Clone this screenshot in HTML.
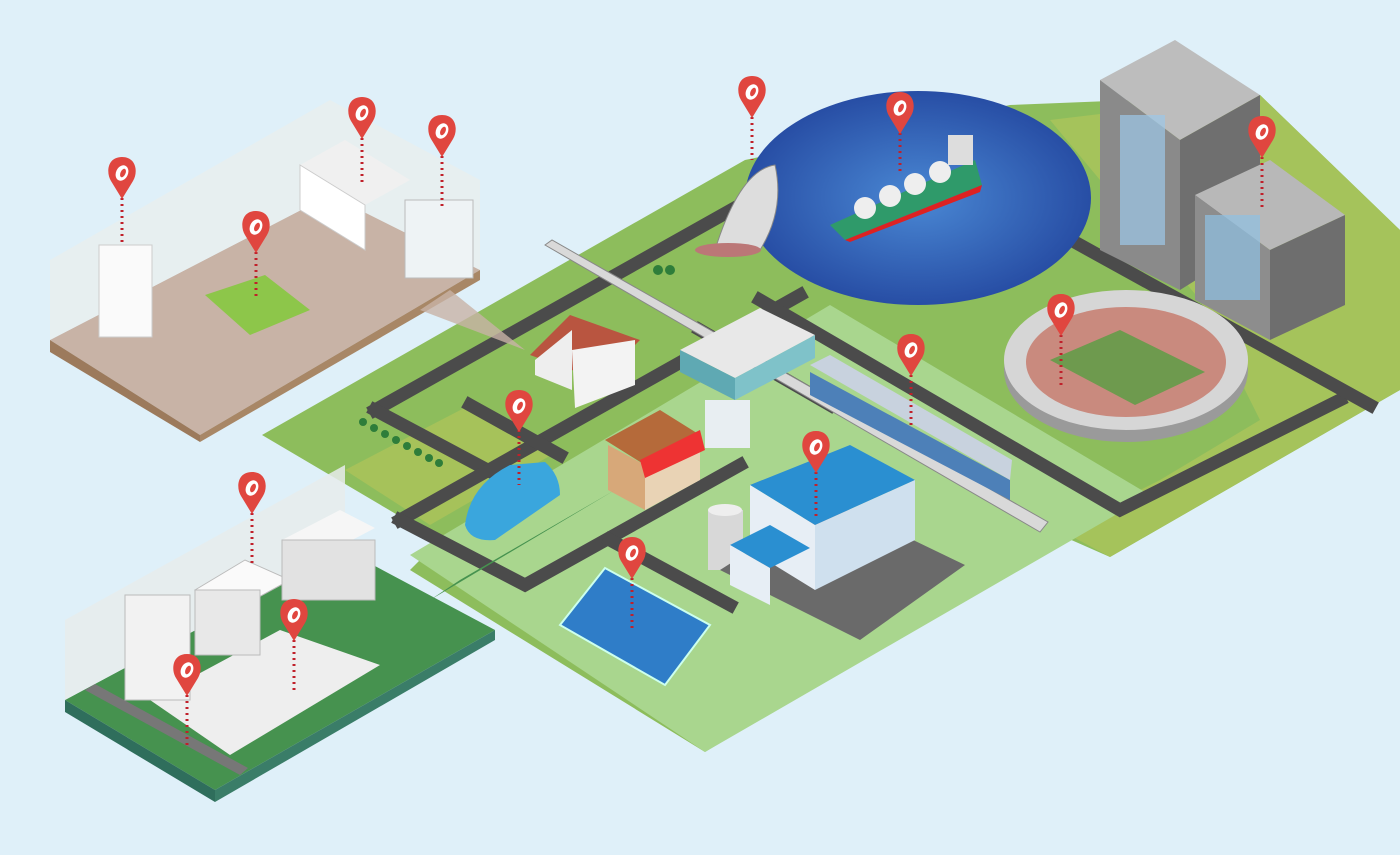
<!DOCTYPE html>
<html><head><meta charset="utf-8"><style>
html,body{margin:0;padding:0;background:#dff0f9;}
svg{display:block}
</style></head><body>
<svg width="1400" height="855" viewBox="0 0 1400 855" xmlns="http://www.w3.org/2000/svg">
<defs>
<radialGradient id="sea" cx="50%" cy="50%" r="55%">
<stop offset="0" stop-color="#4a88d4"/><stop offset="1" stop-color="#2448a0"/></radialGradient>
<g id="pin"><path d="M0,0 C-15,0 -16,16 -11,24 L0,42 L11,24 C16,16 15,0 0,0Z" fill="#e0463f"/><ellipse cx="0" cy="16" rx="6" ry="8" fill="#fff" transform="rotate(25 0 16)"/><ellipse cx="1" cy="16" rx="2.5" ry="4.5" fill="#e0463f" transform="rotate(25 1 16)"/></g>
</defs>
<rect width="1400" height="855" fill="#dff0f9"/>
<!-- main land -->
<polygon points="262,435 745,160 1010,105 1260,95 1400,230 1400,390 1110,557 1060,535 705,752 410,570 440,540" fill="#8dbd5c"/>
<polygon points="1050,120 1260,95 1400,230 1400,390 1110,557 1060,530 1160,480 1260,420 1200,300" fill="#a5c35b"/>
<polygon points="410,555 830,305 1150,495 705,752" fill="#a9d68e"/>
<polygon points="345,470 470,405 560,450 430,525" fill="#a6c25a"/>
<!-- roads -->
<g stroke="#4b4b4b" stroke-width="13" fill="none" stroke-linecap="square">
<polyline points="375,410 740,205"/>
<polyline points="375,410 525,490"/>
<polyline points="400,520 800,295"/>
<polyline points="400,520 525,585 740,465"/>
<polyline points="610,540 730,605"/>
<polyline points="760,300 1120,510 1340,400"/>
<polyline points="1080,245 1370,405"/>
<polyline points="470,405 560,455"/>
<polyline points="700,330 830,405"/>
</g>
<!-- rail -->
<polygon points="545,245 552,240 1048,522 1040,532" fill="#d9d9d9" stroke="#888" stroke-width="1"/>
<!-- sea -->
<ellipse cx="918" cy="198" rx="173" ry="107" fill="url(#sea)"/>
<!-- ship -->
<polygon points="830,225 975,160 982,185 845,240" fill="#2f9a6a"/>
<polygon points="845,240 982,185 980,192 850,242" fill="#d22"/>
<g fill="#eee"><circle cx="865" cy="208" r="11"/><circle cx="890" cy="196" r="11"/><circle cx="915" cy="184" r="11"/><circle cx="940" cy="172" r="11"/></g>
<rect x="948" y="135" width="25" height="30" fill="#ddd"/>
<!-- dish -->
<path d="M715,250 Q740,170 775,165 Q785,210 760,250Z" fill="#ddd" stroke="#888"/>
<ellipse cx="728" cy="250" rx="33" ry="7" fill="#b77"/>
<!-- tall building -->
<polygon points="1100,80 1175,40 1260,95 1180,140" fill="#bdbdbd"/>
<polygon points="1100,80 1180,140 1180,290 1100,250" fill="#8a8a8a"/>
<polygon points="1180,140 1260,95 1260,240 1180,290" fill="#6f6f6f"/>
<rect x="1120" y="115" width="45" height="130" fill="#9cc8e8" opacity=".7"/>
<polygon points="1195,195 1270,160 1345,215 1270,250" fill="#b8b8b8"/>
<polygon points="1195,195 1270,250 1270,340 1195,300" fill="#8d8d8d"/>
<polygon points="1270,250 1345,215 1345,305 1270,340" fill="#6e6e6e"/>
<rect x="1205" y="215" width="55" height="85" fill="#8fc0e2" opacity=".7"/>
<!-- stadium -->
<ellipse cx="1126" cy="370" rx="122" ry="72" fill="#9a9a9a"/>
<ellipse cx="1126" cy="360" rx="122" ry="70" fill="#d6d6d6"/>
<ellipse cx="1126" cy="362" rx="100" ry="55" fill="#c98a7e"/>
<polygon points="1050,360 1120,330 1205,372 1135,405" fill="#6e9a4e"/>
<!-- station -->
<polygon points="680,350 760,308 815,335 735,378" fill="#e8e8e8"/>
<polygon points="680,350 735,378 735,400 680,372" fill="#5fa9b3"/>
<polygon points="735,378 815,335 815,358 735,400" fill="#7fc2c9"/>
<rect x="705" y="400" width="45" height="48" fill="#e8eef2"/>
<!-- train -->
<polygon points="810,372 1010,480 1010,500 810,395" fill="#4d80b8"/>
<polygon points="810,365 830,355 1012,460 1010,480" fill="#c8d2de"/>
<!-- house -->
<polygon points="530,355 570,315 640,340 600,380" fill="#b95540"/>
<polygon points="535,360 572,330 572,390 535,375" fill="#eee"/>
<polygon points="572,350 635,340 635,385 575,408" fill="#f3f3f3"/>
<!-- shop -->
<polygon points="605,440 660,410 700,435 645,465" fill="#b56a3a"/>
<polygon points="608,445 645,465 645,510 608,490" fill="#d7a879"/>
<polygon points="645,465 700,435 700,480 645,510" fill="#e9d3b5"/>
<polygon points="640,460 700,430 705,450 645,478" fill="#e33"/>
<!-- car -->
<path d="M465,525 Q470,485 510,465 L545,462 Q560,475 560,495 L495,540 Q470,542 465,525Z" fill="#3aa6dd"/>
<!-- factory -->
<rect x="708" y="510" width="35" height="60" fill="#d8d8d8"/>
<ellipse cx="725" cy="510" rx="17" ry="6" fill="#eee"/>
<polygon points="720,570 860,640 965,565 830,500" fill="#6a6a6a"/>
<polygon points="750,485 850,445 915,480 815,525" fill="#2a8fd1"/>
<polygon points="750,485 815,525 815,590 750,550" fill="#e7eef5"/>
<polygon points="815,525 915,480 915,540 815,590" fill="#cfe0ee"/>
<polygon points="730,545 770,525 810,548 770,568" fill="#2a8fd1"/>
<polygon points="730,545 770,568 770,605 730,585" fill="#e7eef5"/>
<!-- solar -->
<polygon points="560,625 605,568 710,625 665,685" fill="#2f7dc8" stroke="#cfe" stroke-width="2"/>
<!-- trees -->
<g fill="#2e7d3a"><circle cx="363" cy="422" r="4"/><circle cx="374" cy="428" r="4"/><circle cx="385" cy="434" r="4"/><circle cx="396" cy="440" r="4"/><circle cx="407" cy="446" r="4"/><circle cx="418" cy="452" r="4"/><circle cx="429" cy="458" r="4"/><circle cx="439" cy="463" r="4"/><circle cx="658" cy="270" r="5"/><circle cx="670" cy="270" r="5"/></g>
<!-- kitchen 1 -->
<polygon points="50,340 330,195 480,270 200,435" fill="#c8b3a6"/>
<polygon points="50,340 200,435 200,442 50,352" fill="#9c7a5c"/>
<polygon points="200,435 480,270 480,280 200,442" fill="#a88766"/>
<polygon points="50,260 330,100 480,180 480,270 330,195 50,340" fill="#e9eeee" opacity=".85"/>
<polygon points="420,310 525,350 450,290" fill="#c8b3a6" opacity=".8"/>
<rect x="99" y="245" width="53" height="92" fill="#fafafa" stroke="#ccc"/>
<polygon points="205,295 265,275 310,310 250,335" fill="#8dc64a"/>
<polygon points="300,165 345,140 410,180 365,205" fill="#f0f0f0"/>
<polygon points="300,165 365,205 365,250 300,210" fill="#fff" stroke="#ccc"/>
<rect x="405" y="200" width="68" height="78" fill="#eef3f5" stroke="#bbb"/>
<!-- kitchen 2 -->
<polygon points="65,700 345,550 495,630 215,790" fill="#46924f"/>
<polygon points="65,700 215,790 215,802 65,712" fill="#2f6e5c"/>
<polygon points="215,790 495,630 495,640 215,802" fill="#3a7d68"/>
<polygon points="65,620 345,465 345,550 65,700" fill="#e8ecec" opacity=".85"/>
<polygon points="150,700 280,630 380,665 230,755" fill="#eeeeee"/>
<polygon points="85,690 240,775 248,768 95,684" fill="#777"/>
<rect x="125" y="595" width="65" height="105" fill="#f2f2f2" stroke="#bbb"/>
<polygon points="195,590 245,560 290,580 235,610" fill="#fafafa" stroke="#bbb"/>
<rect x="195" y="590" width="65" height="65" fill="#e8e8e8" stroke="#bbb"/>
<polygon points="282,540 340,510 375,528 318,558" fill="#f6f6f6"/>
<rect x="282" y="540" width="93" height="60" fill="#e2e2e2" stroke="#bbb"/>
<polygon points="430,600 615,490 460,580" fill="#46924f"/>
<!-- pins -->
<g stroke="#c0202a" stroke-width="3" stroke-dasharray="2 4">
<line x1="122" y1="198" x2="122" y2="245"/><line x1="362" y1="138" x2="362" y2="185"/><line x1="442" y1="156" x2="442" y2="208"/>
<line x1="256" y1="252" x2="256" y2="298"/><line x1="752" y1="117" x2="752" y2="160"/><line x1="900" y1="133" x2="900" y2="175"/>
<line x1="1262" y1="157" x2="1262" y2="208"/><line x1="1061" y1="335" x2="1061" y2="385"/><line x1="911" y1="375" x2="911" y2="425"/>
<line x1="519" y1="430" x2="519" y2="485"/><line x1="816" y1="472" x2="816" y2="520"/><line x1="632" y1="578" x2="632" y2="630"/>
<line x1="252" y1="513" x2="252" y2="565"/><line x1="294" y1="640" x2="294" y2="690"/><line x1="187" y1="695" x2="187" y2="748"/>
</g>
<use href="#pin" x="122" y="157"/><use href="#pin" x="362" y="97"/><use href="#pin" x="442" y="115"/>
<use href="#pin" x="256" y="211"/><use href="#pin" x="752" y="76"/><use href="#pin" x="900" y="92"/>
<use href="#pin" x="1262" y="116"/><use href="#pin" x="1061" y="294"/><use href="#pin" x="911" y="334"/>
<use href="#pin" x="519" y="390"/><use href="#pin" x="816" y="431"/><use href="#pin" x="632" y="537"/>
<use href="#pin" x="252" y="472"/><use href="#pin" x="294" y="599"/><use href="#pin" x="187" y="654"/>
</svg>
</body></html>
